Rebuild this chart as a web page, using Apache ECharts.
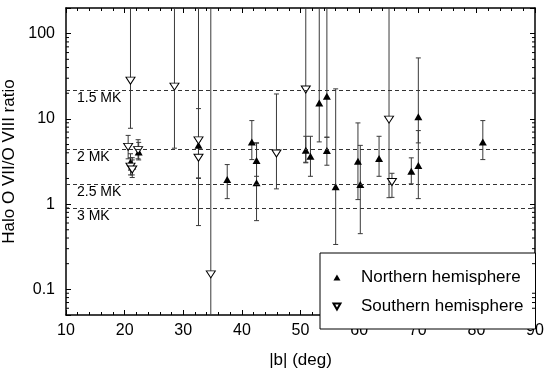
<!DOCTYPE html>
<html>
<head>
<meta charset="utf-8">
<script src="https://cdn.jsdelivr.net/npm/echarts@6/dist/echarts.min.js"></script>
<style>
  html, body { margin: 0; padding: 0; background: #fff; }
  #chart { width: 546px; height: 371px; }
</style>
</head>
<body>
<div id="chart"></div>
<script>
// Northern hemisphere sight lines: |b| (deg), halo O VII/O VIII ratio, lower and upper limits
const northLat   = [21.0, 21.3, 22.4, 32.6, 37.5, 41.7, 42.5, 42.5, 50.9, 51.7, 53.2, 54.5, 54.5, 56.0, 59.8, 60.2, 63.4, 68.9, 70.1, 70.1, 81.1];
const northRatio = [3.1,  2.8,  4.1,  4.9,  1.94, 5.37, 3.25, 1.78, 4.28, 3.65, 15.4, 18.4, 4.25, 1.60, 3.18, 1.70, 3.42, 2.43, 10.6, 2.84, 5.37];
const northLow   = [2.5,  2.2,  3.3,  2.03, 1.16, 3.33, 2.12, 0.64, 3.05, 2.12, 5.37, 6.1,  2.86, 0.336, 1.13, 0.45, 2.12, 1.73, 5.23, 1.16, 3.33];
const northHigh  = [3.9,  3.5,  5.3,  13.2, 2.91, 9.55, 5.23, 5.2,  6.25, 6.25, 1000, 1000, 6.08, 22.5, 8.97, 4.89, 6.25, 3.49, 51.9, 7.29, 9.55];

// Southern hemisphere sight lines
const southLat   = [20.6, 21.0, 21.0, 21.3, 22.3, 28.5, 32.6, 32.6, 34.7, 45.9, 50.9, 65.1, 65.6];
const southRatio = [4.7,  28.1, 2.75, 2.55, 4.3,  23.9, 5.6,  3.5,  0.15, 3.92, 22.1, 9.8,  1.82];
const southLow   = [3.4,  7.76, 2.2,  2.05, 3.4,  4.53, 0.56, 2.0,  0.01, 1.51, 3.1,  1.19, 1.2];
const southHigh  = [6.4,  1000, 3.5,  3.3,  5.7,  1000, 1000, 5.5,  1000, 19.6, 1000, 1000, 2.3];

// Reference ratios for isothermal halo temperatures
const tempLabels = ['1.5 MK', '2 MK', '2.5 MK', '3 MK'];
const tempRatios = [21.5, 4.4, 1.71, 0.895];

// Axis ranges
const latMin = 10, latMax = 90, latStep = 10;
const ratioMin = 0.05, ratioMax = 200;

const FONT = '"Liberation Sans", Arial, Helvetica, sans-serif';
const BAR_COLOR = '#3a3a3a';
const DOWN_TRIANGLE = 'path://M0,0L10,0L5,8.66Z';

function errorBars(name, lat, low, high) {
  return {
    type: 'custom',
    name: name,
    clip: true,
    silent: true,
    z: 2,
    data: lat.map((b, i) => [b, low[i], high[i]]),
    encode: { x: 0, y: [1, 2] },
    renderItem(params, api) {
      const top = api.coord([api.value(0), api.value(2)]);
      const bot = api.coord([api.value(0), api.value(1)]);
      const cap = 2.5;
      const st = { stroke: BAR_COLOR, lineWidth: 1 };
      return {
        type: 'group',
        children: [
          { type: 'line', shape: { x1: top[0], y1: top[1], x2: bot[0], y2: bot[1] }, style: st },
          { type: 'line', shape: { x1: top[0] - cap, y1: top[1], x2: top[0] + cap, y2: top[1] }, style: st },
          { type: 'line', shape: { x1: bot[0] - cap, y1: bot[1], x2: bot[0] + cap, y2: bot[1] }, style: st }
        ]
      };
    }
  };
}

// Logarithmic minor ticks (2..9 per decade) on the left and right frame
function logMinorTicks() {
  const vals = [];
  for (let e = -2; e <= 2; e++) {
    for (let k = 2; k <= 9; k++) {
      const v = k * Math.pow(10, e);
      if (v > ratioMin && v < ratioMax) vals.push(v);
    }
  }
  return {
    type: 'custom',
    silent: true,
    clip: false,
    z: 5,
    data: [[latMin, 1]],
    encode: { x: 0, y: 1 },
    renderItem(params, api) {
      const len = 3;
      const children = [];
      vals.forEach(v => {
        const l = api.coord([latMin, v]);
        const r = api.coord([latMax, v]);
        children.push({ type: 'line', shape: { x1: l[0], y1: l[1], x2: l[0] + len, y2: l[1] }, style: { stroke: '#000', lineWidth: 1 } });
        children.push({ type: 'line', shape: { x1: r[0], y1: r[1], x2: r[0] - len, y2: r[1] }, style: { stroke: '#000', lineWidth: 1 } });
      });
      return { type: 'group', children };
    }
  };
}

const chart = echarts.init(document.getElementById('chart'), null, { renderer: 'canvas' });

const axisLine = { show: true, onZero: false, lineStyle: { color: '#000', width: 1.5 } };

const xBase = {
  type: 'value',
  min: latMin,
  max: latMax,
  interval: latStep,
  axisLine: axisLine,
  axisTick: { show: true, inside: true, length: 5, lineStyle: { color: '#000' } },
  minorTick: { show: true, splitNumber: 5, length: 3, lineStyle: { color: '#000' } },
  splitLine: { show: false }
};

const yBase = {
  type: 'log',
  logBase: 10,
  min: ratioMin,
  max: ratioMax,
  axisLine: axisLine,
  axisTick: { show: true, inside: true, length: 5, lineStyle: { color: '#000' } },
  splitLine: { show: false }
};

function decadeLabel(v) {
  const l = Math.log10(v);
  if (Math.abs(l - Math.round(l)) > 1e-6) return '';
  return String(+Math.pow(10, Math.round(l)).toPrecision(3));
}

chart.setOption({
  animation: false,
  backgroundColor: '#fff',
  textStyle: { fontFamily: FONT },
  grid: { left: 66, right: 11, top: 8, bottom: 56, containLabel: false, outerBoundsMode: 'none' },
  xAxis: [
    Object.assign({}, xBase, {
      position: 'bottom',
      name: '|b| (deg)',
      nameLocation: 'middle',
      nameGap: 37,
      nameTextStyle: { fontSize: 17, color: '#000', fontFamily: FONT },
      axisLabel: { show: true, fontSize: 16, color: '#000', margin: 8, fontFamily: FONT }
    }),
    Object.assign({}, xBase, { position: 'top', axisLabel: { show: false } })
  ],
  yAxis: [
    Object.assign({}, yBase, {
      position: 'left',
      name: 'Halo O VII/O VIII ratio',
      nameLocation: 'middle',
      nameGap: 43,
      nameTextStyle: { fontSize: 17, color: '#000', fontFamily: FONT },
      axisLabel: { show: true, fontSize: 16, color: '#000', margin: 11, fontFamily: FONT, formatter: decadeLabel }
    }),
    Object.assign({}, yBase, { position: 'right', axisLabel: { show: false } })
  ],
  legend: {
    data: ['Northern hemisphere', 'Southern hemisphere'],
    orient: 'vertical',
    left: 320,
    top: 253,
    padding: [16, 12, 14, 12.5],
    itemWidth: 7,
    itemHeight: 6,
    itemGap: 12,
    backgroundColor: '#fff',
    borderColor: '#000',
    borderWidth: 1,
    borderRadius: 0,
    textStyle: { fontSize: 17, color: '#000', fontFamily: FONT, lineHeight: 10, padding: [0, 0, 0, 15.5] }
  },
  series: [
    {
      type: 'line',
      silent: true,
      data: [],
      markLine: {
        silent: true,
        symbol: ['none', 'none'],
        lineStyle: { color: '#333', width: 1, type: [4, 3] },
        label: {
          show: true,
          position: 'insideStartBottom',
          distance: [11, 1],
          fontSize: 14,
          color: '#000',
          fontFamily: FONT,
          formatter: p => p.name
        },
        data: tempRatios.map((r, i) => ({ name: tempLabels[i], yAxis: r }))
      }
    },
    errorBars('north-errors', northLat, northLow, northHigh),
    errorBars('south-errors', southLat, southLow, southHigh),
    {
      type: 'scatter',
      name: 'Northern hemisphere',
      z: 3,
      symbol: 'triangle',
      symbolSize: [8, 7],
      itemStyle: { color: '#000', opacity: 1 },
      data: northLat.map((b, i) => [b, northRatio[i]])
    },
    {
      type: 'scatter',
      name: 'Southern hemisphere',
      z: 4,
      symbol: DOWN_TRIANGLE,
      symbolSize: [9, 7],
      itemStyle: { color: '#fff', borderColor: '#000', borderWidth: 1, opacity: 1 },
      data: southLat.map((b, i) => [b, southRatio[i]])
    },
    logMinorTicks()
  ]
});
</script>
</body>
</html>
